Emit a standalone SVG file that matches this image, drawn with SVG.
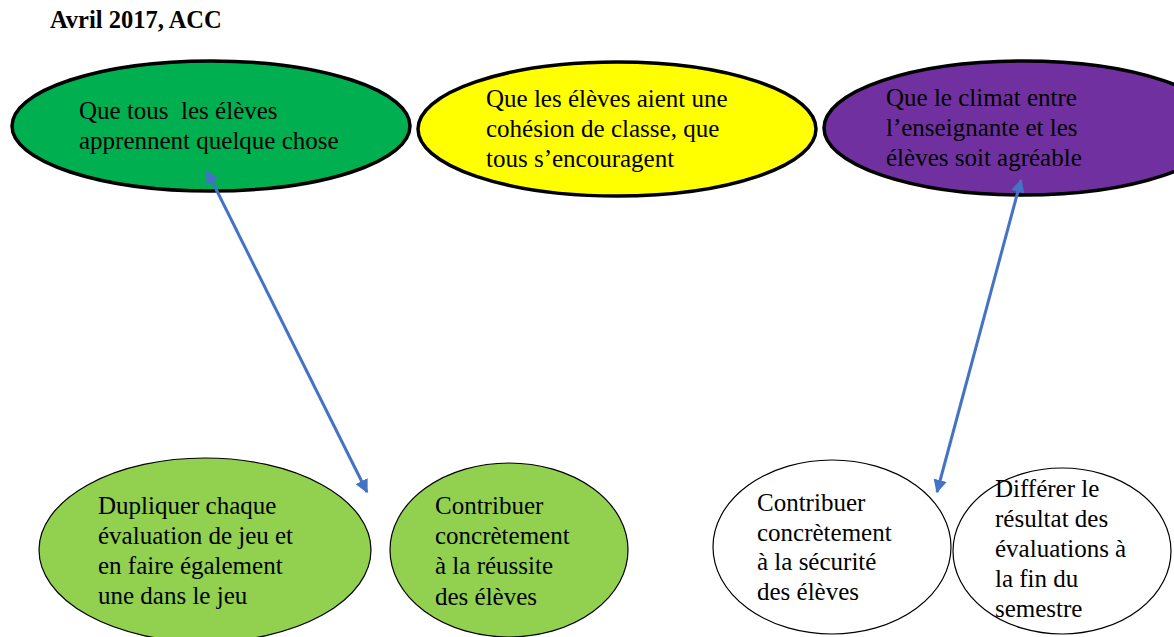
<svg xmlns="http://www.w3.org/2000/svg" width="1174" height="637" viewBox="0 0 1174 637">
<style>
text{font-family:"Liberation Serif","Times New Roman",serif;font-size:25px;fill:#000;white-space:pre}
.title{font-weight:bold;font-size:24.5px}
.top{stroke:#000;stroke-width:3.5}
.bot{stroke:#000;stroke-width:1.2}
.conn{stroke:#4472C4;stroke-width:3;fill:none;marker-start:url(#ah);marker-end:url(#ah)}
</style>
<defs>
<marker id="ah" viewBox="0 0 10 10" refX="9" refY="5" markerWidth="4.5" markerHeight="4.5" orient="auto-start-reverse" markerUnits="strokeWidth">
<path d="M0,0 L10,5 L0,10 z" fill="#4472C4"/>
</marker>
</defs>
<rect width="1174" height="637" fill="#fff"/>
<text class="title" x="50" y="28">Avril 2017, ACC</text>

<g id="n1">
<ellipse class="top" cx="211" cy="126" rx="199" ry="65" fill="#00B050"/>
<text x="79" y="119" xml:space="preserve">Que tous  les élèves<tspan x="79" y="149">apprennent quelque chose</tspan></text>
</g>
<g id="n2">
<ellipse class="top" cx="617" cy="129" rx="199" ry="67" fill="#FFFF00"/>
<text x="486" y="107">Que les élèves aient une<tspan x="486" y="137">cohésion de classe, que</tspan><tspan x="486" y="167">tous s’encouragent</tspan></text>
</g>
<g id="n3">
<ellipse class="top" cx="1023" cy="128" rx="199" ry="67" fill="#7030A0"/>
<text x="886" y="106">Que le climat entre<tspan x="886" y="136">l’enseignante et les</tspan><tspan x="886" y="166">élèves soit agréable</tspan></text>
</g>
<g id="n4">
<ellipse class="bot" cx="205" cy="550" rx="166" ry="92" fill="#92D050"/>
<text x="98" y="514">Dupliquer chaque<tspan x="98" y="544">évaluation de jeu et</tspan><tspan x="98" y="574">en faire également</tspan><tspan x="98" y="604">une dans le jeu</tspan></text>
</g>
<g id="n5">
<ellipse class="bot" cx="509" cy="550" rx="119" ry="87" fill="#92D050"/>
<text x="435" y="514">Contribuer<tspan x="435" y="544">concrètement</tspan><tspan x="435" y="574">à la réussite</tspan><tspan x="435" y="605">des élèves</tspan></text>
</g>
<g id="n6">
<ellipse class="bot" cx="832" cy="547" rx="119" ry="87" fill="#fff"/>
<text x="757" y="511">Contribuer<tspan x="757" y="541">concrètement</tspan><tspan x="757" y="570">à la sécurité</tspan><tspan x="757" y="600">des élèves</tspan></text>
</g>
<g id="n7">
<ellipse class="bot" cx="1062" cy="551" rx="109" ry="83" fill="#fff"/>
<text x="995" y="497">Différer le<tspan x="995" y="527">résultat des</tspan><tspan x="995" y="557">évaluations à</tspan><tspan x="995" y="587">la fin du</tspan><tspan x="995" y="617">semestre</tspan></text>
</g>

<g id="connectors">
<line class="conn" x1="207" y1="171" x2="367" y2="492"/>
<line class="conn" x1="1021" y1="180" x2="937" y2="492"/>
</g>
</svg>
